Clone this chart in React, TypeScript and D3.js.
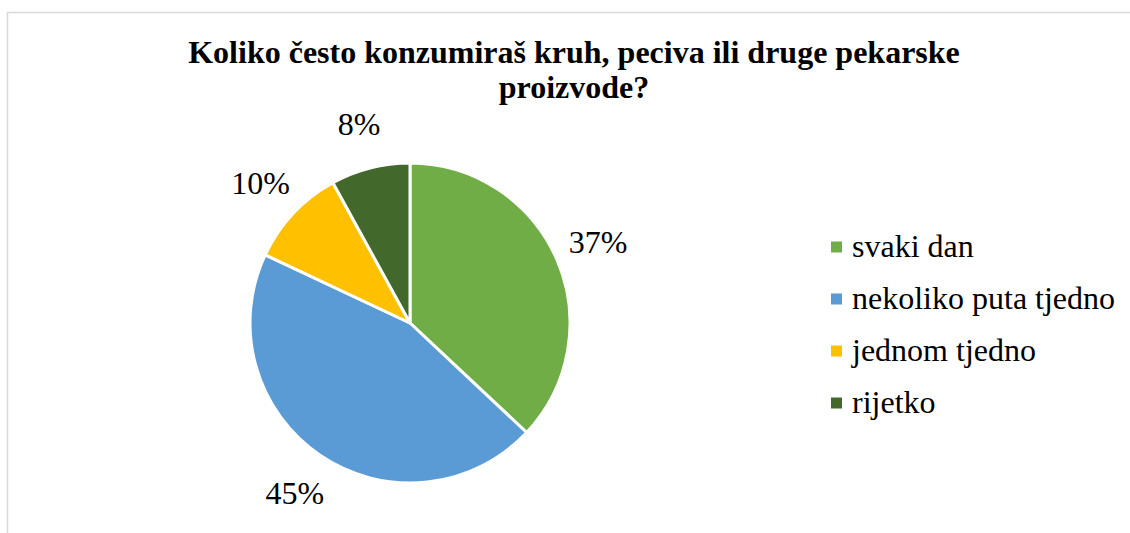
import React from 'react';
import * as d3 from 'd3';

const titleLines = ['Koliko često konzumiraš kruh, peciva ili druge pekarske', 'proizvode?'];
const categories = ['svaki dan', 'nekoliko puta tjedno', 'jednom tjedno', 'rijetko'];
const values = [37, 45, 10, 8];
const colors = ['#70ad47', '#5b9bd5', '#ffc000', '#43682b'];

interface Slice {
    name: string;
    value: number;
    color: string;
}

export default function App() {
    const width = 1130;
    const height = 533;

    const data: Slice[] = categories.map((name, i) => ({ name, value: values[i], color: colors[i] }));

    const cx = 410;
    const cy = 323;
    const radius = 160;

    const pie = d3.pie<Slice>().value(d => d.value).sort(null);
    const arcs = pie(data);
    const arc = d3.arc<d3.PieArcDatum<Slice>>().innerRadius(0).outerRadius(radius);
    const labelArc = d3.arc<d3.PieArcDatum<Slice>>().innerRadius(205).outerRadius(205);

    // legend rows
    const legendY = d3.scaleBand<string>().domain(categories).range([221, 429]);

    return (
        <svg width={width} height={height} style={{ position: 'absolute', left: 0, top: 0, fontFamily: 'serif' }}>
            {/* chart frame, right and bottom edges run off the picture */}
            <rect x={7.5} y={12.5} width={1300} height={700} fill="#ffffff" stroke="#d9d9d9" strokeWidth={1.5} />

            {titleLines.map((line, i) => (
                <text key={line} x={574} y={63 + i * 35} textAnchor="middle" fontFamily="serif"
                    fontSize={32} fontWeight="bold">{line}</text>
            ))}

            {arcs.map(d => (
                <path key={d.data.name} transform={`translate(${cx},${cy})`} d={arc(d) ?? ''} fill={d.data.color}
                    stroke="#ffffff" strokeWidth={3} strokeLinejoin="round" />
            ))}
            {arcs.map(d => {
                const [x, y] = labelArc.centroid(d);
                return (
                    <text key={d.data.name} x={cx + x} y={cy + y + 11} textAnchor="middle"
                        fontFamily="serif" fontSize={32}>{d.data.value}{'%'}</text>
                );
            })}

            {data.map(d => {
                const y = (legendY(d.name) ?? 0) + legendY.bandwidth() / 2;
                return (
                    <g key={d.name}>
                        <rect x={831} y={y - 5.5} width={11} height={11} fill={d.color} />
                        <text x={852} y={y + 10} fontFamily="serif" fontSize={32}>{d.name}</text>
                    </g>
                );
            })}
        </svg>
    );
}
